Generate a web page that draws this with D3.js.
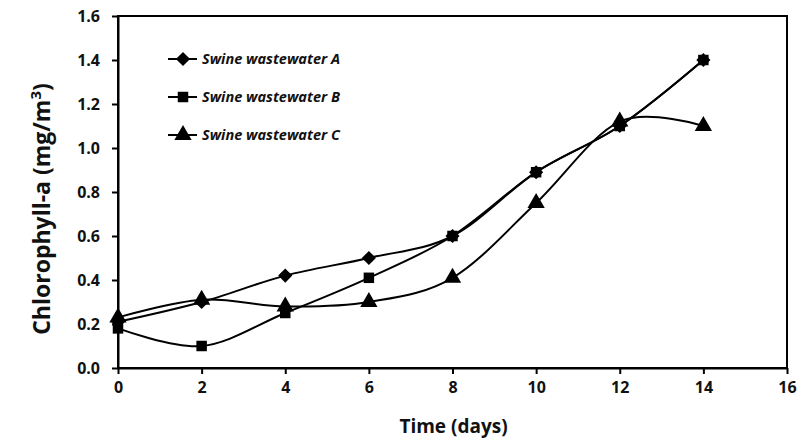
<!DOCTYPE html>
<html>
<head>
<meta charset="utf-8">
<script src="https://cdn.jsdelivr.net/npm/d3@7"></script>
<style>
  body { margin: 0; background: #fff; }
  text { font-family: "Open Sans", "Noto Sans", "DejaVu Sans", sans-serif; }
</style>
</head>
<body>
<div id="chart"></div>
<script>
// data
var days = [0, 2, 4, 6, 8, 10, 12, 14];
var swineA = [0.21, 0.30, 0.42, 0.50, 0.60, 0.89, 1.10, 1.40];
var swineB = [0.18, 0.10, 0.25, 0.41, 0.60, 0.89, 1.10, 1.40];
var swineC = [0.23, 0.31, 0.28, 0.30, 0.41, 0.75, 1.12, 1.10];
var seriesNames = ["Swine wastewater A", "Swine wastewater B", "Swine wastewater C"];
var xTicks = [0, 2, 4, 6, 8, 10, 12, 14, 16];
var yTicks = [0, 0.2, 0.4, 0.6, 0.8, 1.0, 1.2, 1.4, 1.6];

var W = 800, H = 441;
var margin = { top: 16, right: 13, bottom: 73, left: 118 },
    width = W - margin.left - margin.right,
    height = H - margin.top - margin.bottom;

var svg = d3.select("#chart")
    .append("svg")
    .attr("width", W)
    .attr("height", H)
    .append("g")
    .attr("transform", "translate(" + margin.left + "," + margin.top + ")");

var x = d3.scaleLinear().domain([0, 16]).range([0, width]);
var y = d3.scaleLinear().domain([0, 1.6]).range([height, 0]);

// frame
svg.append("rect")
    .attr("x", 0).attr("y", 0)
    .attr("width", width).attr("height", height)
    .attr("fill", "none")
    .attr("stroke", "#000")
    .attr("stroke-width", 2);

// x axis
var xAxis = svg.append("g")
    .attr("transform", "translate(0," + height + ")")
    .call(d3.axisBottom(x).tickValues(xTicks).tickSize(6).tickSizeOuter(0).tickPadding(8)
        .tickFormat(d3.format("d")));
xAxis.select(".domain").attr("stroke-width", 2);
xAxis.selectAll(".tick line").attr("stroke-width", 2);
xAxis.selectAll("text")
    .style("font-size", "16px")
    .style("font-weight", "bold")
    .attr("fill", "#111");

// y axis
var yAxis = svg.append("g")
    .call(d3.axisLeft(y).tickValues(yTicks).tickSize(6).tickSizeOuter(0).tickPadding(12)
        .tickFormat(d3.format(".1f")));
yAxis.select(".domain").attr("stroke-width", 2);
yAxis.selectAll(".tick line").attr("stroke-width", 2);
yAxis.selectAll("text")
    .style("font-size", "16px")
    .style("font-weight", "bold")
    .attr("fill", "#111");

// axis titles
svg.append("text")
    .attr("x", x(8) + 1)
    .attr("y", height + 65)
    .attr("text-anchor", "middle")
    .style("font-size", "19px")
    .style("font-weight", "bold")
    .attr("fill", "#111")
    .text("Time (days)");

var yt = svg.append("text")
    .attr("transform", "translate(" + (42 - margin.left + 8) + "," + (209 - margin.top) + ") rotate(-90)")
    .attr("text-anchor", "middle")
    .style("font-size", "23px")
    .style("font-weight", "bold")
    .attr("fill", "#111");
yt.append("tspan").text("Chlorophyll-a (mg/m");
yt.append("tspan").attr("dy", -9).style("font-size", "15px").text("3");
yt.append("tspan").attr("dy", 9).text(")");

var allSeries = [swineA, swineB, swineC];
// wide diamond = rotated square
var diamond = {
    draw: function (ctx, size) {
        var r = Math.sqrt(size / 2);
        ctx.moveTo(0, -r); ctx.lineTo(r, 0); ctx.lineTo(0, r); ctx.lineTo(-r, 0); ctx.closePath();
    }
};
var symbols = [diamond, d3.symbolSquare, d3.symbolTriangle];
var sizes = [100, 110, 130];

var line = d3.line()
    .x(function (d, i) { return x(days[i]) })
    .y(function (d) { return y(d) })
    .curve(d3.curveCatmullRom.alpha(0));

allSeries.forEach(function (vals, k) {
    svg.append("path")
        .datum(vals)
        .attr("fill", "none")
        .attr("stroke", "#000")
        .attr("stroke-width", 2)
        .attr("d", line);
});

allSeries.forEach(function (vals, k) {
    svg.append("g")
        .selectAll("path.pt")
        .data(vals)
        .enter()
        .append("path")
        .attr("class", "pt")
        .attr("transform", function (d, i) { return "translate(" + x(days[i]) + "," + y(d) + ")" })
        .attr("d", d3.symbol().type(symbols[k]).size(sizes[k]))
        .attr("fill", "#000");
});

// legend
var legend = svg.append("g").attr("transform", "translate(" + (168 - margin.left) + "," + (59 - margin.top) + ")");
seriesNames.forEach(function (name, k) {
    var row = legend.append("g").attr("transform", "translate(0," + (k * 38) + ")");
    row.append("line")
        .attr("x1", 0).attr("x2", 29)
        .attr("y1", 0).attr("y2", 0)
        .attr("stroke", "#000")
        .attr("stroke-width", 2);
    row.append("path")
        .attr("transform", "translate(15,0)")
        .attr("d", d3.symbol().type(symbols[k]).size(sizes[k]))
        .attr("fill", "#000");
    row.append("text")
        .attr("x", 34)
        .attr("y", 5)
        .style("font-size", "14.5px")
        .style("font-weight", "bold")
        .style("font-style", "italic")
        .attr("fill", "#111")
        .text(name);
});
</script>
</body>
</html>
